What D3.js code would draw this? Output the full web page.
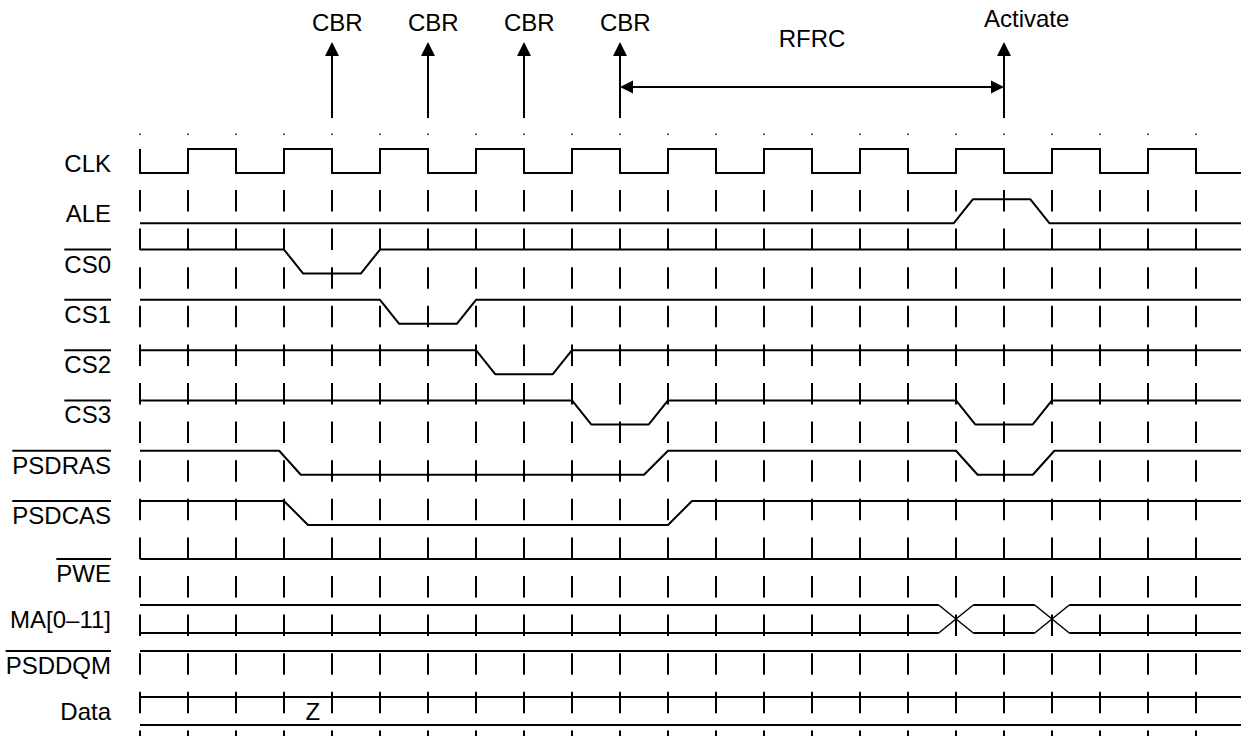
<!DOCTYPE html>
<html>
<head>
<meta charset="utf-8">
<script src="https://cdn.jsdelivr.net/npm/d3@7"></script>
<style>
  html, body { margin: 0; padding: 0; background: #fff; }
  svg { display: block; }
  text { font-family: "Liberation Sans", Arial, sans-serif; font-size: 24px; fill: #000; }
</style>
</head>
<body>
<svg id="timing" width="1241" height="736"></svg>
<script>
// signal rows, top to bottom
const rowNames = ["CLK", "ALE", "CS0", "CS1", "CS2", "CS3", "PSDRAS", "PSDCAS", "PWE", "MA[0–11]", "PSDDQM", "Data"];
const activeLow = [false, false, true, true, true, true, true, true, true, false, true, false];

// clock level for each half period, starting at grid line 0
const clkLevels = [0, 1, 0, 1, 0, 1, 0, 1, 0, 1, 0, 1, 0, 1, 0, 1, 0, 1, 0, 1, 0, 1, 0];

// waveforms as [time in half clocks, level]
const aleWave = [[0, 0], [16.95, 0], [17.35, 1], [18.55, 1], [18.95, 0]];
const cs0Wave = [[0, 1], [3, 1], [3.4, 0], [4.6, 0], [5, 1]];
const cs1Wave = [[0, 1], [5, 1], [5.4, 0], [6.6, 0], [7, 1]];
const cs2Wave = [[0, 1], [7, 1], [7.4, 0], [8.6, 0], [9, 1]];
const cs3Wave = [[0, 1], [9, 1], [9.4, 0], [10.6, 0], [11, 1], [17, 1], [17.4, 0], [18.6, 0], [19, 1]];
const rasWave = [[0, 1], [2.9, 1], [3.35, 0], [10.5, 0], [11, 1], [17, 1], [17.45, 0], [18.6, 0], [19.05, 1]];
const casWave = [[0, 1], [3, 1], [3.5, 0], [11, 0], [11.5, 1]];
const pweWave = [[0, 1]];
const dqmWave = [[0, 1]];

// bus rows: times where the value changes, and text inside
const maChanges = [17, 19];
const dataChanges = [];
const dataValues = [{ t: 3.6, text: "Z" }];

// annotations on top
const eventNames = ["CBR", "CBR", "CBR", "CBR", "Activate"];
const eventTimes = [4, 6, 8, 10, 18];
const spanLabel = "RFRC";
const spanTimes = [10, 18];

const svg = d3.select("#timing");
const width = 1241;

const x = d3.scaleLinear().domain([0, 22]).range([140, 1196]);
const tEnd = x.invert(width);
const rowY = d3.scaleLinear().domain([0, 7, 8, 11]).range([149, 501, 559, 697]);
const swing = 24;
const busGap = 28;

const waves = [null, aleWave, cs0Wave, cs1Wave, cs2Wave, cs3Wave, rasWave, casWave, pweWave, null, dqmWave, null];
const buses = { 9: maChanges, 11: dataChanges };

// dotted top row
svg.append("g")
  .selectAll("line")
  .data(d3.range(0, 23))
  .join("line")
  .attr("x1", d => x(d))
  .attr("x2", d => x(d))
  .attr("y1", 133.5)
  .attr("y2", 135)
  .attr("stroke", "#000")
  .attr("stroke-width", 1.5);

// dashed grid
svg.append("g")
  .selectAll("line")
  .data(d3.range(0, 23))
  .join("line")
  .attr("x1", d => x(d))
  .attr("x2", d => x(d))
  .attr("y1", 190)
  .attr("y2", 736)
  .attr("stroke", "#000")
  .attr("stroke-width", 2)
  .attr("stroke-dasharray", "21.5 17.1");

// labels
rowNames.forEach((name, i) => {
  const base = rowY(i) + 23;
  const t = svg.append("text")
    .attr("x", 111)
    .attr("y", base)
    .attr("text-anchor", "end")
    .text(name);
  if (activeLow[i]) {
    const bb = t.node().getBBox();
    svg.append("line")
      .attr("x1", bb.x)
      .attr("x2", bb.x + bb.width)
      .attr("y1", base - 23)
      .attr("y2", base - 23)
      .attr("stroke", "#000")
      .attr("stroke-width", 2);
  }
});

// clock
const clkPoints = [[0, 1]].concat(clkLevels.map((l, k) => [k, l]));
clkPoints.push([tEnd, clkLevels[clkLevels.length - 1]]);
svg.append("path")
  .attr("d", d3.line()
    .x(d => x(d[0]))
    .y(d => rowY(0) + (1 - d[1]) * swing)
    .curve(d3.curveStepAfter)(clkPoints))
  .attr("fill", "none")
  .attr("stroke", "#000")
  .attr("stroke-width", 2);

// other single line signals
waves.forEach((w, i) => {
  if (!w) return;
  const pts = w.concat([[tEnd, w[w.length - 1][1]]]);
  svg.append("path")
    .attr("d", d3.line()
      .x(d => x(d[0]))
      .y(d => rowY(i) + (1 - d[1]) * swing)(pts))
    .attr("fill", "none")
    .attr("stroke", "#000")
    .attr("stroke-width", 2)
    .attr("stroke-linejoin", "round");
});

// buses
const half = 0.36;
Object.keys(buses).forEach(key => {
  const i = +key;
  const changes = buses[key];
  const top = rowY(i);
  const bot = rowY(i) + busGap;
  const bounds = [0].concat(changes).concat([tEnd]);
  for (let s = 0; s < bounds.length - 1; s++) {
    const t0 = s === 0 ? bounds[s] : bounds[s] + half;
    const t1 = s === bounds.length - 2 ? bounds[s + 1] : bounds[s + 1] - half;
    [top, bot].forEach(yy => {
      svg.append("line")
        .attr("x1", x(t0)).attr("x2", x(t1))
        .attr("y1", yy).attr("y2", yy)
        .attr("stroke", "#000").attr("stroke-width", 2);
    });
  }
  changes.forEach(c => {
    svg.append("line")
      .attr("x1", x(c - half)).attr("y1", top)
      .attr("x2", x(c + half)).attr("y2", bot)
      .attr("stroke", "#000").attr("stroke-width", 1.5);
    svg.append("line")
      .attr("x1", x(c - half)).attr("y1", bot)
      .attr("x2", x(c + half)).attr("y2", top)
      .attr("stroke", "#000").attr("stroke-width", 1.5);
  });
});

// values inside the data bus
svg.append("g")
  .selectAll("text")
  .data(dataValues)
  .join("text")
  .attr("x", d => x(d.t))
  .attr("y", rowY(11) + 23)
  .attr("text-anchor", "middle")
  .text(d => d.text);

// event arrows
eventNames.forEach((name, i) => {
  const ex = x(eventTimes[i]);
  svg.append("line")
    .attr("x1", ex).attr("x2", ex)
    .attr("y1", 118).attr("y2", 55)
    .attr("stroke", "#000").attr("stroke-width", 2);
  svg.append("path")
    .attr("d", `M${ex},42 L${ex - 7},56 L${ex + 7},56 Z`)
    .attr("fill", "#000");
  svg.append("text")
    .attr("x", ex - 20)
    .attr("y", name === "Activate" ? 27 : 31)
    .text(name);
});

// RFRC span
const sx0 = x(spanTimes[0]);
const sx1 = x(spanTimes[1]);
const sy = 87;
svg.append("line")
  .attr("x1", sx0 + 10).attr("x2", sx1 - 10)
  .attr("y1", sy).attr("y2", sy)
  .attr("stroke", "#000").attr("stroke-width", 2);
svg.append("path")
  .attr("d", `M${sx0},${sy} L${sx0 + 13},${sy - 6.5} L${sx0 + 13},${sy + 6.5} Z M${sx1},${sy} L${sx1 - 13},${sy - 6.5} L${sx1 - 13},${sy + 6.5} Z`)
  .attr("fill", "#000");
svg.append("text")
  .attr("x", (sx0 + sx1) / 2)
  .attr("y", 47)
  .attr("text-anchor", "middle")
  .text(spanLabel);
</script>
</body>
</html>
